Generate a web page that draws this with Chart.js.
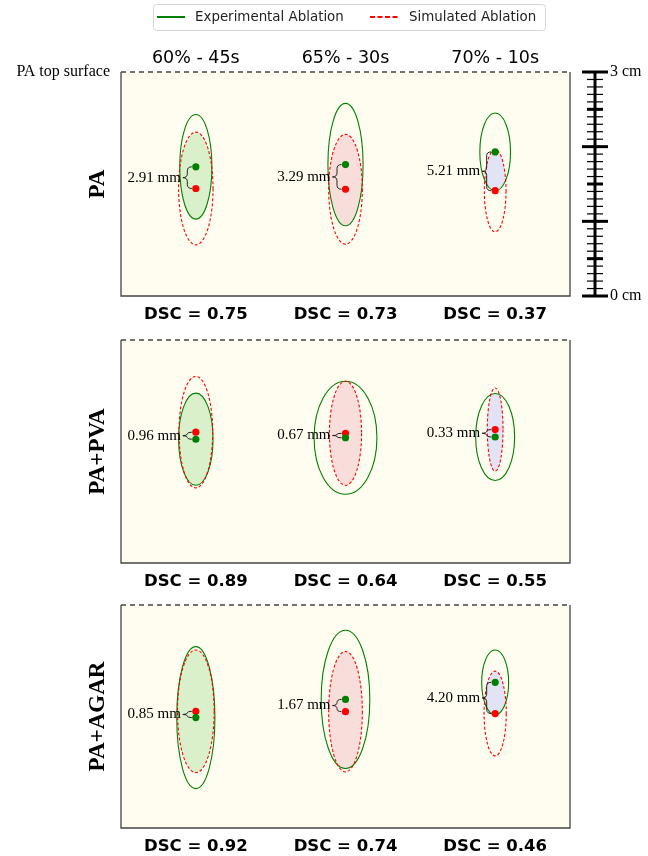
<!DOCTYPE html>
<html>
<head>
<meta charset="utf-8">
<script src="https://cdn.jsdelivr.net/npm/chart.js@4.4.1/dist/chart.umd.min.js"></script>
<style>
  body { margin: 0; background: #fff; }
  .wrap { position: relative; width: 648px; height: 856px; }
  canvas { position: absolute; left: 0; }
</style>
</head>
<body>
<div class="wrap">
  <canvas id="row0" width="648" height="330" style="top:0"></canvas>
  <canvas id="row1" width="648" height="266" style="top:330px"></canvas>
  <canvas id="row2" width="648" height="260" style="top:596px"></canvas>
</div>
<script>
// conditions (columns) and phantoms (rows)
const conditions = ['60% - 45s', '65% - 30s', '70% - 10s'];
const phantoms = ['PA', 'PA+PVA', 'PA+AGAR'];
const lateralPos = [10, 30, 50];          // mm across the phantom

// experimental ablation: centre height (mm above bottom) and semi-axes (mm)
const expCenter     = [[17.3, 17.6, 19.3], [16.65, 16.85, 16.95], [14.85, 17.3, 19.6]];
const expHalfLength = [[7.0, 8.2, 5.2],    [6.2, 7.6, 5.85],      [9.55, 9.3, 4.35]];
const expHalfWidth  = [[2.15, 2.35, 2.05], [2.3, 4.2, 2.6],       [2.55, 3.25, 1.8]];

// simulated ablation
const simCenter     = [[14.4, 14.3, 14.1], [17.6, 17.45, 17.95],  [15.7, 15.65, 15.4]];
const simHalfLength = [[7.55, 7.35, 5.5],  [7.5, 7.0, 5.6],       [8.25, 8.1, 5.7]];
const simHalfWidth  = [[2.3, 2.25, 1.45],  [2.25, 2.15, 1.05],    [2.45, 2.25, 1.48]];

const centreDistance = [['2.91', '3.29', '5.21'], ['0.96', '0.67', '0.33'], ['0.85', '1.67', '4.20']];
const dsc = [[0.75, 0.73, 0.37], [0.89, 0.64, 0.55], [0.92, 0.74, 0.46]];

const scaleTicks = [0, 1, 2, 3, 4, 5, 6, 7, 8, 9, 10, 11, 12, 13, 14, 15, 16, 17, 18, 19, 20,
                    21, 22, 23, 24, 25, 26, 27, 28, 29, 30];
const scaleLabels = ['0 cm', '3 cm'];

const overlapColors = ['#d9f0cb', '#f8dedb', '#e3e3f6'];
const GREEN = '#008000';
const RED = '#ff0000';
const SANS = '"DejaVu Sans", sans-serif';
const SERIF = '"Liberation Serif", "Times New Roman", serif';

const ablationPlot = {
  id: 'ablation',
  beforeDatasetsDraw(chart, args, opts) {
    const { ctx, chartArea: a, scales: { x, y } } = chart;
    const r = opts.row;
    ctx.save();
    ctx.fillStyle = '#fffdf0';
    ctx.fillRect(a.left, a.top, a.right - a.left, a.bottom - a.top);

    lateralPos.forEach((lx, i) => {
      const cx = x.getPixelForValue(lx);
      const ge = {
        cy: y.getPixelForValue(expCenter[r][i]),
        rx: x.getPixelForValue(lx + expHalfWidth[r][i]) - cx,
        ry: y.getPixelForValue(0) - y.getPixelForValue(expHalfLength[r][i])
      };
      const se = {
        cy: y.getPixelForValue(simCenter[r][i]),
        rx: x.getPixelForValue(lx + simHalfWidth[r][i]) - cx,
        ry: y.getPixelForValue(0) - y.getPixelForValue(simHalfLength[r][i])
      };
      // overlap region
      ctx.save();
      ctx.beginPath();
      ctx.ellipse(cx, ge.cy, ge.rx, ge.ry, 0, 0, Math.PI * 2);
      ctx.clip();
      ctx.beginPath();
      ctx.ellipse(cx, se.cy, se.rx, se.ry, 0, 0, Math.PI * 2);
      ctx.fillStyle = overlapColors[i];
      ctx.fill();
      ctx.restore();

      ctx.lineWidth = 1.1;
      ctx.strokeStyle = GREEN;
      ctx.setLineDash([]);
      ctx.beginPath();
      ctx.ellipse(cx, ge.cy, ge.rx, ge.ry, 0, 0, Math.PI * 2);
      ctx.stroke();

      ctx.strokeStyle = RED;
      ctx.setLineDash([3, 2]);
      ctx.beginPath();
      ctx.ellipse(cx, se.cy, se.rx, se.ry, 0, 0, Math.PI * 2);
      ctx.stroke();
      ctx.setLineDash([]);

      // brace between the two centres
      const ya = Math.min(ge.cy, se.cy), yb = Math.max(ge.cy, se.cy);
      const mid = (ya + yb) / 2;
      const xr = cx - 4, xl = cx - 13, xm = (xr + xl) / 2;
      const q = Math.min((yb - ya) / 4, 4);
      ctx.strokeStyle = '#222';
      ctx.lineWidth = 1;
      ctx.beginPath();
      ctx.moveTo(xr, ya);
      ctx.quadraticCurveTo(xm, ya, xm, ya + q);
      ctx.lineTo(xm, mid - q);
      ctx.quadraticCurveTo(xm, mid, xl, mid);
      ctx.quadraticCurveTo(xm, mid, xm, mid + q);
      ctx.lineTo(xm, yb - q);
      ctx.quadraticCurveTo(xm, yb, xr, yb);
      ctx.stroke();

      ctx.fillStyle = '#000';
      ctx.font = '15px ' + SERIF;
      ctx.textAlign = 'right';
      ctx.textBaseline = 'middle';
      ctx.fillText(centreDistance[r][i] + ' mm', xl - 2, mid);

      // DSC under the panel
      ctx.font = 'bold 16.5px ' + SANS;
      ctx.textAlign = 'center';
      ctx.fillText('DSC = ' + dsc[r][i].toFixed(2), cx, a.bottom + 19);
    });

    // frame: solid sides, dashed top surface
    ctx.strokeStyle = '#444';
    ctx.lineWidth = 1.3;
    ctx.beginPath();
    ctx.moveTo(a.left, a.top);
    ctx.lineTo(a.left, a.bottom);
    ctx.lineTo(a.right, a.bottom);
    ctx.lineTo(a.right, a.top);
    ctx.stroke();
    ctx.setLineDash([5, 4]);
    ctx.beginPath();
    ctx.moveTo(a.left, a.top);
    ctx.lineTo(a.right, a.top);
    ctx.stroke();
    ctx.setLineDash([]);

    // phantom name
    ctx.save();
    ctx.translate(a.left - 23, (a.top + a.bottom) / 2);
    ctx.rotate(-Math.PI / 2);
    ctx.fillStyle = '#000';
    ctx.font = 'bold 23px ' + SERIF;
    ctx.textAlign = 'center';
    ctx.textBaseline = 'middle';
    ctx.fillText(phantoms[r], 0, 0);
    ctx.restore();

    if (opts.header) drawHeader(chart);
    ctx.restore();
  }
};

function drawHeader(chart) {
  const { ctx, chartArea: a, scales: { x, y } } = chart;
  ctx.fillStyle = '#000';
  ctx.textBaseline = 'middle';

  // legend
  ctx.save();
  ctx.strokeStyle = '#d6d6d6';
  ctx.fillStyle = '#fff';
  ctx.lineWidth = 1;
  ctx.beginPath();
  ctx.roundRect(153.5, 4.5, 392, 26, 3);
  ctx.fill();
  ctx.stroke();
  const ds = chart.data.datasets;
  const items = [{ x0: 157, tx: 195 }, { x0: 370, tx: 409 }];
  ds.forEach((d, k) => {
    ctx.strokeStyle = d.backgroundColor;
    ctx.lineWidth = 2;
    ctx.setLineDash(k === 1 ? [5, 2.5] : []);
    ctx.beginPath();
    ctx.moveTo(items[k].x0, 17);
    ctx.lineTo(items[k].x0 + 28, 17);
    ctx.stroke();
    ctx.setLineDash([]);
    ctx.fillStyle = '#222';
    ctx.font = '13.4px ' + SANS;
    ctx.textAlign = 'left';
    ctx.fillText(d.label, items[k].tx, 17.5);
  });
  ctx.restore();

  // condition titles
  ctx.font = '17.5px ' + SANS;
  ctx.textAlign = 'center';
  ctx.fillStyle = '#000';
  conditions.forEach((c, i) => ctx.fillText(c, x.getPixelForValue(lateralPos[i]), a.top - 14));

  ctx.font = '16px ' + SERIF;
  ctx.textAlign = 'right';
  ctx.fillText('PA top surface', 110, a.top);

  // depth scale bar
  const bx = 595;
  ctx.strokeStyle = '#000';
  ctx.lineWidth = 3;
  ctx.beginPath();
  ctx.moveTo(bx, y.getPixelForValue(0));
  ctx.lineTo(bx, y.getPixelForValue(30));
  ctx.stroke();
  scaleTicks.forEach(t => {
    const py = y.getPixelForValue(t);
    const major = t % 10 === 0, medium = t % 5 === 0;
    const half = major ? 13 : 8;
    ctx.lineWidth = major || medium ? 3 : 1.2;
    ctx.beginPath();
    ctx.moveTo(bx - half, py);
    ctx.lineTo(bx + half, py);
    ctx.stroke();
  });
  ctx.font = '16px ' + SERIF;
  ctx.textAlign = 'left';
  ctx.fillText(scaleLabels[0], 610, y.getPixelForValue(0));
  ctx.fillText(scaleLabels[1], 610, y.getPixelForValue(30));
}

function makeChart(id, row, padding, header) {
  return new Chart(document.getElementById(id), {
    type: 'scatter',
    data: {
      datasets: [
        {
          label: 'Experimental Ablation',
          data: lateralPos.map((lx, i) => ({ x: lx, y: expCenter[row][i] })),
          backgroundColor: GREEN,
          borderWidth: 0,
          pointRadius: 3.6
        },
        {
          label: 'Simulated Ablation',
          data: lateralPos.map((lx, i) => ({ x: lx, y: simCenter[row][i] })),
          backgroundColor: RED,
          borderWidth: 0,
          pointRadius: 3.6
        }
      ]
    },
    options: {
      responsive: false,
      animation: false,
      events: [],
      layout: { padding },
      scales: {
        x: { type: 'linear', min: 0, max: 60, display: false },
        y: { type: 'linear', min: 0, max: 30, display: false }
      },
      plugins: {
        legend: { display: false },
        tooltip: { enabled: false },
        ablation: { row, header }
      }
    },
    plugins: [ablationPlot]
  });
}

makeChart('row0', 0, { left: 121, right: 78, top: 72, bottom: 34 }, true);
makeChart('row1', 1, { left: 121, right: 78, top: 10, bottom: 33 }, false);
makeChart('row2', 2, { left: 121, right: 78, top: 9, bottom: 28 }, false);
</script>
</body>
</html>
